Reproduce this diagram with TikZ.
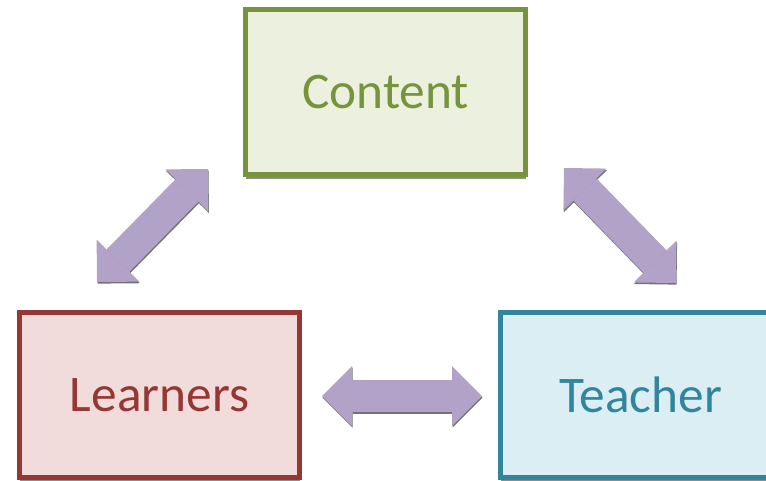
\documentclass[tikz,border=0pt]{standalone}
\usepackage{fontspec}
\setmainfont{Carlito}
\usetikzlibrary{arrows.meta,shadows}
\definecolor{contentgreen}{HTML}{77933C}
\definecolor{contentfill}{HTML}{EBF1DE}
\definecolor{learnred}{HTML}{953735}
\definecolor{learnfill}{HTML}{F2DCDB}
\definecolor{teachblue}{HTML}{31859C}
\definecolor{teachfill}{HTML}{DBEEF4}
\definecolor{linklav}{HTML}{B3A2C7}
\tikzset{
  box/.style={draw, line width=3.75pt, minimum width=210pt, minimum height=123.75pt,
    font=\fontsize{38.5}{46}\selectfont,
    drop shadow={shadow xshift=0.4pt, shadow yshift=-3.1pt, fill=black, opacity=0.45}},
  link/.style={draw=linklav, line width=24pt,
    {Triangle[width=45pt,length=22.5pt,line width=0pt]}-{Triangle[width=45pt,length=22.5pt,line width=0pt]}},
  linkshadow/.style={link, draw=black!55, transform canvas={xshift=0.4pt,yshift=-1.2pt}}
}

\begin{document}
\begin{tikzpicture}[x=0.75pt,y=-0.75pt]
  \useasboundingbox (0,0) rectangle (766,480);
  \clip (0,0) rectangle (766,480);
  % arrow ends
  \coordinate (lc1) at (97,282);
  \coordinate (lc2) at (208,169);
  \coordinate (ct1) at (564,168);
  \coordinate (ct2) at (676,283);
  \coordinate (lt1) at (322,396);
  \coordinate (lt2) at (482,396);
  \foreach \a/\b in {lc1/lc2, ct1/ct2, lt1/lt2} {
    \draw[linkshadow] (\a) -- (\b);
    \draw[link] (\a) -- (\b);
  }
  \node[box, draw=contentgreen, fill=contentfill, text=contentgreen] (content) at (385.5,92) {Content};
  \node[box, draw=learnred, fill=learnfill, text=learnred] (learners) at (159.5,395) {Learners};
  \node[box, draw=teachblue, fill=teachfill, text=teachblue] (teacher) at (640.5,394.5) {Teacher};
\end{tikzpicture}
\end{document}
